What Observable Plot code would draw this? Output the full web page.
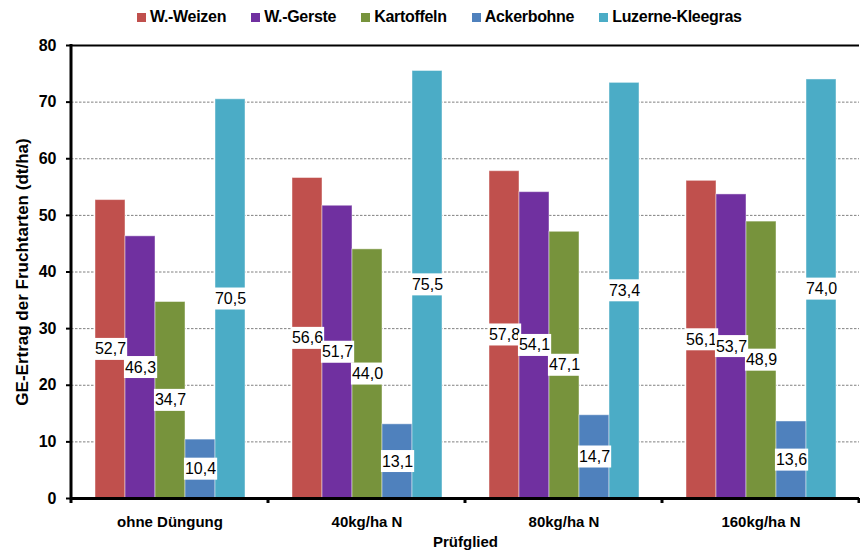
<!DOCTYPE html>
<html>
<head>
<meta charset="utf-8">
<script src="https://cdn.jsdelivr.net/npm/d3@7"></script>
<script src="https://cdn.jsdelivr.net/npm/@observablehq/plot@0.6"></script>
<style>
  body { margin: 0; background: #fff; font-family: "Liberation Sans", Arial, sans-serif; }
  #legend { height: 34px; display: flex; align-items: center; padding-left: 137px;
            font-weight: bold; font-size: 16px; letter-spacing: -0.3px; color: #000; }
  .item { display: flex; align-items: center; margin-right: 25px; }
  .sw { width: 9px; height: 9px; margin-right: 4px; }
</style>
</head>
<body>
<div id="legend"></div>
<div id="chart"></div>
<script>
// Fertilisation treatments (x groups) and crops (bars within a group)
const treatments = ["ohne Düngung", "40kg/ha N", "80kg/ha N", "160kg/ha N"];
const crops = ["W.-Weizen", "W.-Gerste", "Kartoffeln", "Ackerbohne", "Luzerne-Kleegras"];
const cropColors = ["#C0504D", "#7030A0", "#77933C", "#4F81BD", "#4BACC6"];

// GE yield per crop, one value per treatment (dt/ha)
const weizen = [52.7, 56.6, 57.8, 56.1];
const gerste = [46.3, 51.7, 54.1, 53.7];
const kartoffeln = [34.7, 44.0, 47.1, 48.9];
const ackerbohne = [10.4, 13.1, 14.7, 13.6];
const luzerne = [70.5, 75.5, 73.4, 74.0];

const yTicks = [0, 10, 20, 30, 40, 50, 60, 70, 80];
const gridTicks = [10, 20, 30, 40, 50, 60, 70];

const series = [weizen, gerste, kartoffeln, ackerbohne, luzerne];
const rows = [];
treatments.forEach((t, i) => {
  crops.forEach((c, j) => rows.push({treatment: t, crop: c, value: series[j][i]}));
});

const fmt = v => v.toFixed(1).replace(".", ",");

// Legend
const legend = d3.select("#legend");
crops.forEach((c, j) => {
  const item = legend.append("div").attr("class", "item");
  item.append("div").attr("class", "sw").style("background", cropColors[j]);
  item.append("span").text(c);
});

const chart = Plot.plot({
  width: 860,
  height: 517,
  marginTop: 11,
  marginBottom: 53,
  marginLeft: 69,
  marginRight: 0,
  style: {fontFamily: "'Liberation Sans', Arial, sans-serif", fontSize: "15px", color: "#000", background: "#fff"},
  fx: {domain: treatments, padding: 0},
  x: {domain: crops, paddingInner: 0, paddingOuter: 0.75, axis: null},
  y: {domain: [0, 80]},
  color: {domain: crops, range: cropColors},
  marks: [
    Plot.ruleY(gridTicks, {stroke: "#808080", strokeDasharray: "2.5,1.5", strokeWidth: 1}),
    Plot.ruleY([80], {stroke: "#000", strokeWidth: 2}),
    Plot.barY(rows, {fx: "treatment", x: "crop", y: "value", fill: "crop",
                     stroke: "#fff", strokeOpacity: 0.45, strokeWidth: 1}),
    Plot.ruleY([0], {stroke: "#000", strokeWidth: 3}),
    Plot.axisY({ticks: yTicks, tickSize: 5, tickPadding: 10, fontSize: 16, fontWeight: "bold",
                strokeWidth: 2, label: "GE-Ertrag der Fruchtarten (dt/ha)",
                labelAnchor: "center", labelArrow: "none", labelOffset: 56}),
    Plot.axisFx({anchor: "bottom", tickSize: 0, tickPadding: 18, fontSize: 15, fontWeight: "bold",
                 label: "Prüfglied", labelAnchor: "center", labelArrow: "none", labelOffset: 48}),
    Plot.text(rows, {fx: "treatment", x: "crop", y: d => d.value / 2, text: d => fmt(d.value),
                     fontSize: 16, fill: "#000", lineAnchor: "middle"})
  ]
});

document.getElementById("chart").append(chart);

// Slightly larger y-axis title
d3.select(chart).selectAll('g[aria-label="y-axis label"]').attr("font-size", 17);

// White boxes behind the value labels (each inserted right before its label)
d3.select(chart).selectAll('g[aria-label="text"] text').each(function () {
  const b = this.getBBox();
  const r = document.createElementNS("http://www.w3.org/2000/svg", "rect");
  const padX = 1, padY = 2.5;
  r.setAttribute("x", b.x - padX);
  r.setAttribute("y", b.y - padY);
  r.setAttribute("width", b.width + 2 * padX);
  r.setAttribute("height", b.height + 2 * padY);
  r.setAttribute("fill", "#fff");
  const tr = this.getAttribute("transform");
  if (tr) r.setAttribute("transform", tr);
  this.parentNode.insertBefore(r, this);
});

// Left axis line and group boundary ticks on the x axis
const y = chart.scale("y");
const fx = chart.scale("fx");
const y0 = y.apply(0), y80 = y.apply(80);
const x0 = fx.apply(treatments[0]);
const bounds = treatments.map(t => fx.apply(t)).concat([fx.apply(treatments[treatments.length - 1]) + fx.bandwidth]);
const g = d3.select(chart).append("g").attr("stroke", "#000");
g.append("line").attr("x1", x0).attr("x2", x0).attr("y1", y80 - 1).attr("y2", y0 + 1.5).attr("stroke-width", 3);
g.selectAll("line.tick").data(bounds).join("line").attr("class", "tick")
  .attr("x1", d => d).attr("x2", d => d).attr("y1", y0).attr("y2", y0 + 5).attr("stroke-width", 3);
</script>
</body>
</html>
